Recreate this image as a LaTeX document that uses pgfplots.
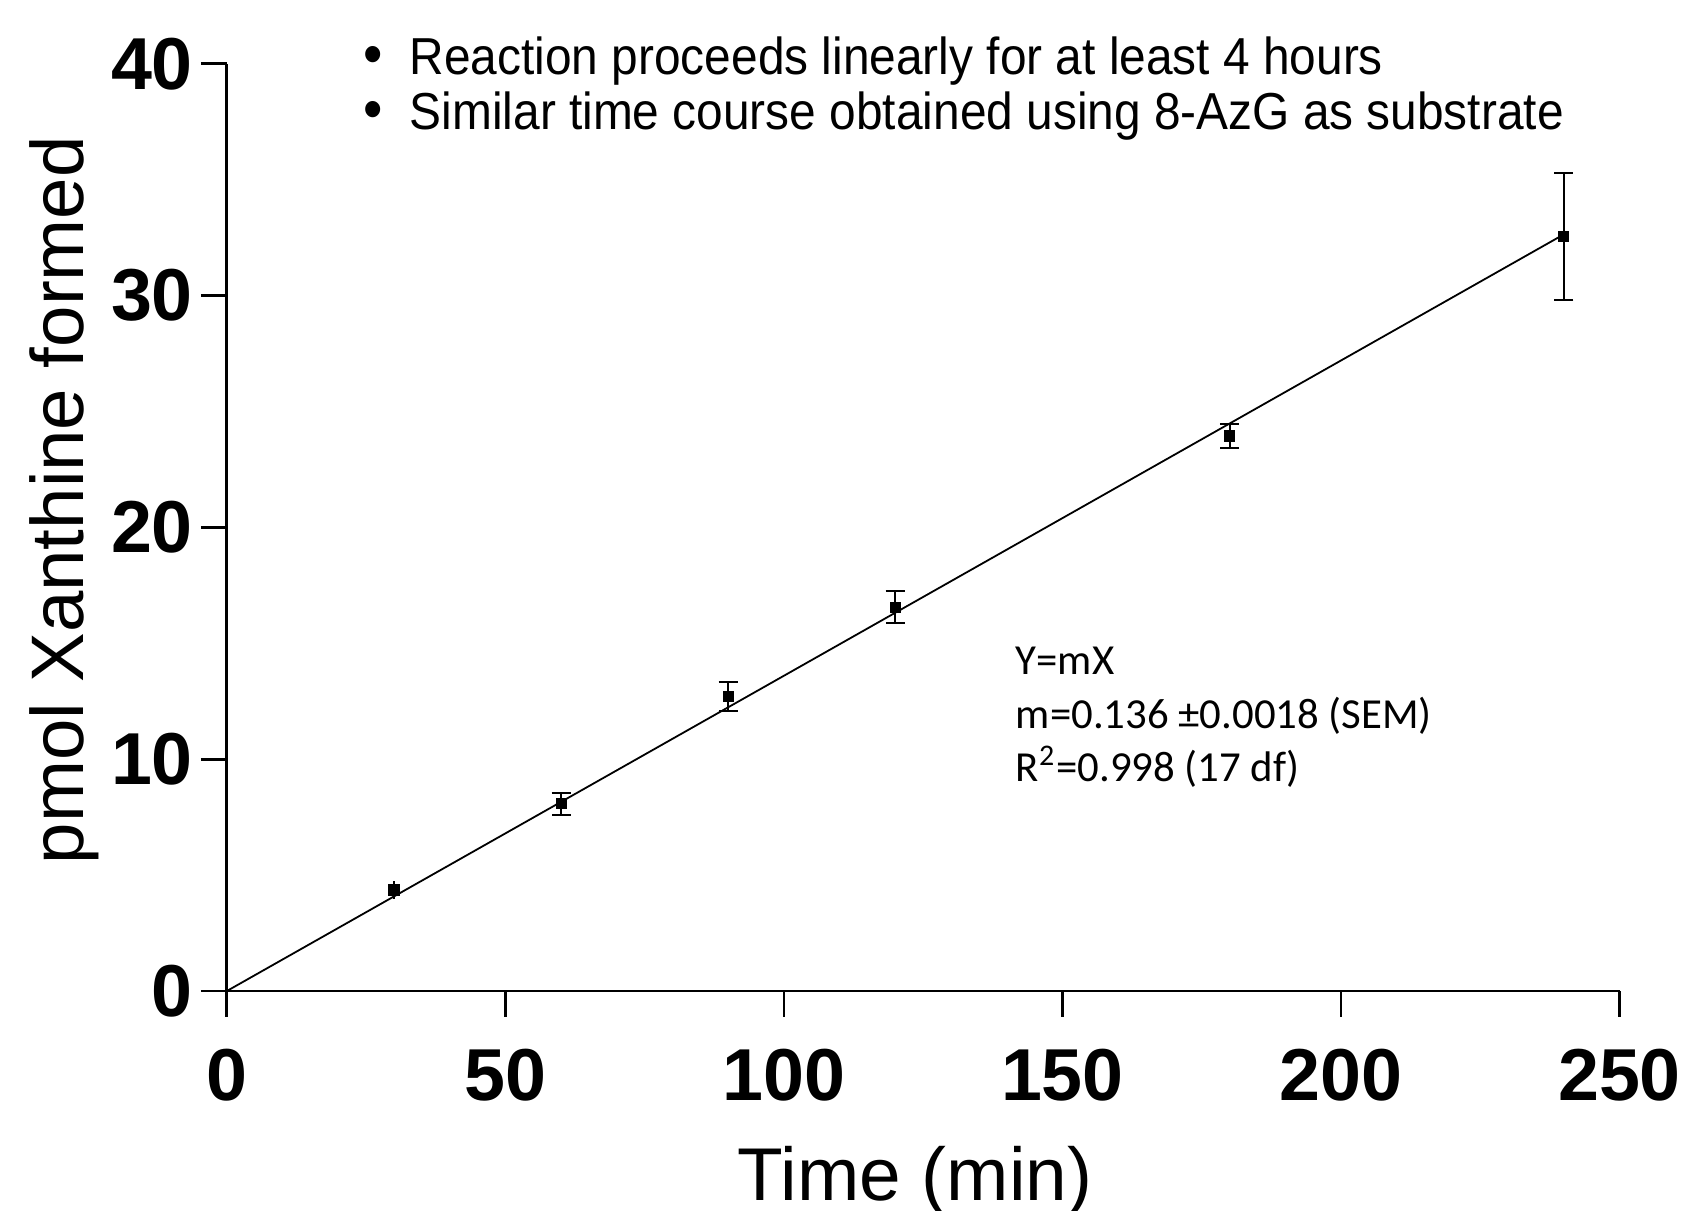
\documentclass[border=0pt]{standalone}
\usepackage{fontspec}
\setmainfont{Liberation Sans}
\newfontfamily\calibri{Carlito}
\newfontfamily\bulletfont[FakeStretch=0.92]{Liberation Sans}
\usepackage{pgfplots}
\pgfplotsset{compat=1.18}
\begin{document}
\begin{tikzpicture}
\useasboundingbox (0,0) rectangle (423.5pt,302.75pt);
\begin{axis}[
  at={(56.725pt,55pt)}, anchor=south west,
  scale only axis, width=348.15pt, height=231.8pt,
  xmin=0, xmax=250, ymin=0, ymax=40,
  axis x line*=bottom, axis y line*=left,
  axis line style={-, line width=0.7pt},
  xtick={0,50,100,150,200,250}, ytick={0,10,20,30,40},
  minor tick num=0,
  tick align=outside, major tick length=6.5pt,
  tick style={line width=0.7pt, black},
  /pgf/number format/assume math mode=true,
  ticklabel style={font=\fontsize{18.4pt}{22pt}\selectfont\bfseries},
  xticklabel style={inner sep=0pt, anchor=north, yshift=-7.8pt},
  yticklabel style={inner sep=0pt, anchor=east, xshift=-1.8pt},
  clip=false,
]
\addplot[black, line width=0.45pt, no marks] coordinates {(0,0) (240,32.64)};
\addplot[black, only marks, mark=square*, mark size=1.2pt,
  error bars/.cd, y dir=both, y explicit,
  error bar style={line width=0.5pt},
  error mark=none]
  coordinates {
  (30,4.36) +- (0,0.4)
  };
\addplot[black, only marks, mark=square*, mark size=1.2pt,
  error bars/.cd, y dir=both, y explicit,
  error bar style={line width=0.5pt},
  error mark options={rotate=90, mark size=2.4pt, line width=0.5pt}]
  coordinates {
  (60,8.08) +- (0,0.47)
  (90,12.70) +- (0,0.63)
  (120,16.56) +- (0,0.68)
  (180,23.94) +- (0,0.5)
  (240,32.54) +- (0,2.74)
  };
\end{axis}
% bullets
\node[anchor=base, inner sep=0pt] at (93.4pt,284pt) {\fontsize{15pt}{15pt}\selectfont\bulletfont •};
\node[anchor=base west, inner sep=0pt] at (102.25pt,284pt) {\fontsize{13pt}{15pt}\selectfont\bulletfont Reaction proceeds linearly for at least 4 hours};
\node[anchor=base, inner sep=0pt] at (93.4pt,270.25pt) {\fontsize{15pt}{15pt}\selectfont\bulletfont •};
\node[anchor=base west, inner sep=0pt] at (102.25pt,270.25pt) {\fontsize{13pt}{15pt}\selectfont\bulletfont Similar time course obtained using 8-AzG as substrate};
% annotation
\node[anchor=base west, inner sep=0pt] at (253.75pt,134.2pt) {\fontsize{10.7pt}{13.4pt}\selectfont\calibri Y=mX};
\node[anchor=base west, inner sep=0pt] at (253.75pt,120.7pt) {\fontsize{10.7pt}{13.4pt}\selectfont\calibri m=0.136 ±0.0018 (SEM)};
\node[anchor=base west, inner sep=0pt] at (253.75pt,107.45pt) {\fontsize{10.7pt}{13.4pt}\selectfont\calibri R\textsuperscript{2}=0.998 (17 df)};
% axis labels
\node[anchor=base, inner sep=0pt] at (228.75pt,2.6pt) {\fontsize{18.7pt}{22pt}\selectfont Time (min)};
\node[anchor=base west, inner sep=0pt, rotate=90] at (20.75pt,86.5pt) {\fontsize{18.6pt}{22pt}\selectfont pmol Xanthine formed};
\end{tikzpicture}
\end{document}
